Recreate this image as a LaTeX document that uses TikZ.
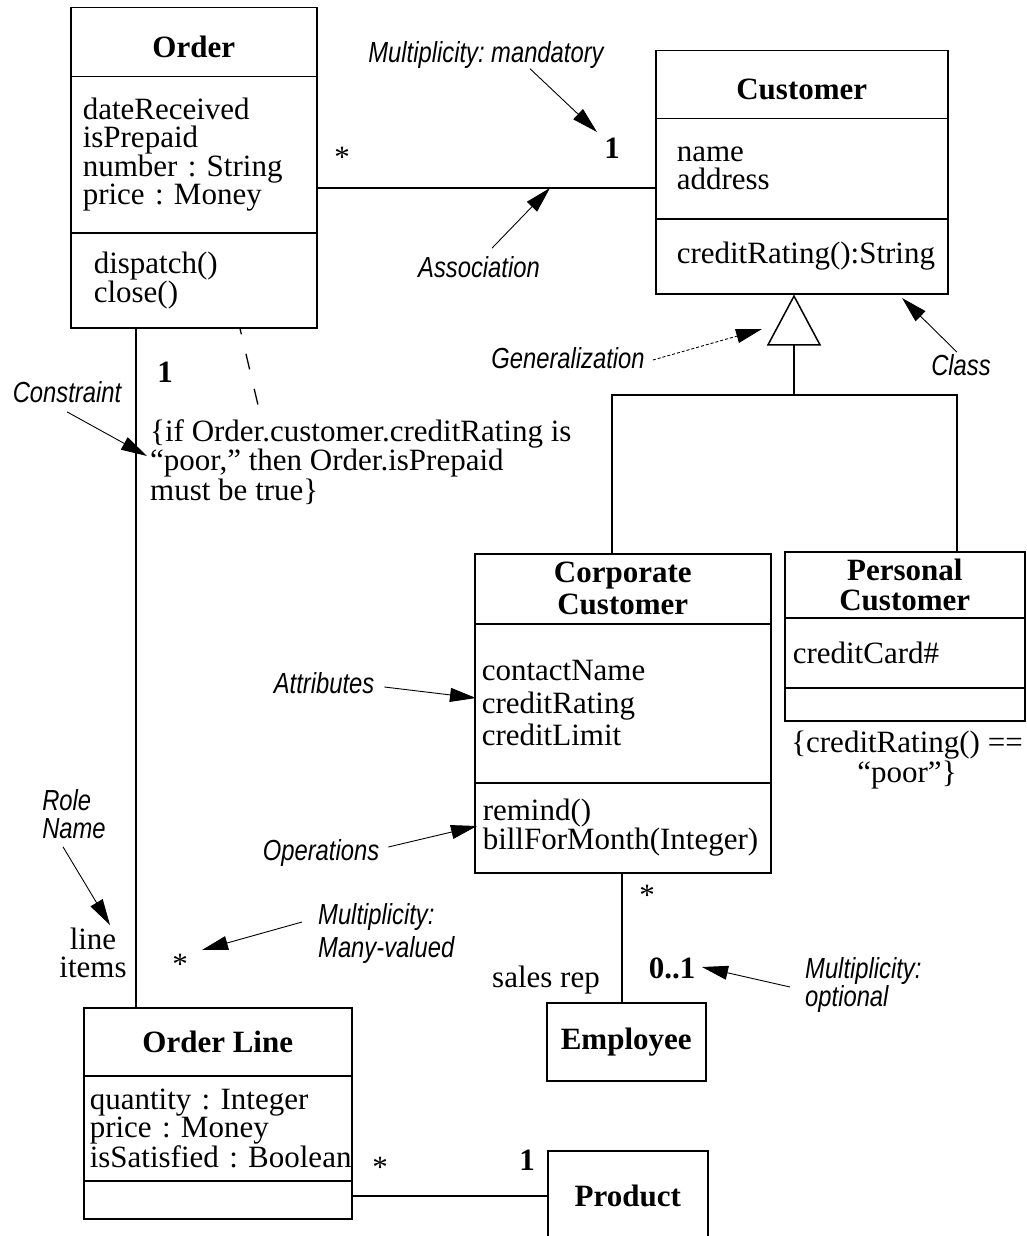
\documentclass[tikz,border=0pt]{standalone}
\usepackage{fontspec}
\setmainfont{Liberation Serif}
\newfontfamily\notefam[FakeStretch=0.82]{Liberation Sans}
\usetikzlibrary{arrows.meta}
\newcommand\umlfont[1][28pt]{\rmfamily\fontsize{31pt}{#1}\selectfont\frenchspacing}
\newcommand\notefont[1][29pt]{\notefam\itshape\fontsize{29pt}{#1}\selectfont\frenchspacing}
\begin{document}
\begin{tikzpicture}[x=1pt,y=-1pt,
  comp/.style={draw, line width=1.5pt, anchor=north west, inner sep=0pt},
  ctitle/.style={comp, align=center, font={\umlfont\bfseries}},
  cattr/.style={comp, align=left, font=\umlfont},
  note/.style={font=\notefont, inner sep=0pt},
  mult/.style={font={\umlfont\bfseries}, inner sep=0pt},
  plain/.style={font=\umlfont, inner sep=0pt},
  link/.style={line width=1.5pt},
  callout/.style={line width=0.9pt, -{Triangle[length=26pt,width=14pt]}}]
\fill[white] (0,0) rectangle (1026,1236);
\useasboundingbox (0,0) rectangle (1026,1236);
\clip (0,0) rectangle (1026,1236);

% Order
\node[ctitle, minimum width=246pt, minimum height=69pt, text height=30pt] (o1) at (70,7) {Order};
\node[cattr, minimum width=246pt, minimum height=156pt, inner xsep=12pt, text width=222pt] (o2) at (70,76) {dateReceived\\isPrepaid\\number : String\\price : Money};
\node[cattr, minimum width=246pt, minimum height=95pt, inner xsep=23pt, text width=200pt, font={\umlfont[29pt]}] (o3) at (70,232) {dispatch()\\close()};

% Customer
\node[ctitle, minimum width=292pt, minimum height=68pt, text height=30pt] (c1) at (655,50) {Customer};
\node[cattr, minimum width=292pt, minimum height=100pt, inner xsep=21pt, text width=250pt] (c2) at (655,118) {name\\address};
\node[cattr, minimum width=292pt, minimum height=75pt, inner xsep=21pt, text width=250pt] (c3) at (655,218) {\mbox{creditRating():String}};

% Corporate Customer
\node[ctitle, minimum width=296pt, minimum height=70pt, font={\umlfont[32pt]\bfseries}] (cc1) at (474,553) {Corporate\\Customer};
\node[cattr, minimum width=296pt, minimum height=159pt, inner xsep=7pt, text width=282pt, font={\umlfont[32.5pt]}] (cc2) at (474,623) {contactName\\creditRating\\creditLimit};
\node[cattr, minimum width=296pt, minimum height=90pt, inner xsep=8pt, text width=280pt, font={\umlfont[29pt]}] (cc3) at (474,782) {remind()\\\mbox{billForMonth(Integer)}};

% Personal Customer
\node[ctitle, minimum width=240pt, minimum height=66pt, font={\umlfont[30pt]\bfseries}] (p1) at (784,551) {Personal\\Customer};
\node[cattr, minimum width=240pt, minimum height=70pt, inner xsep=8pt, text width=224pt] (p2) at (784,617) {creditCard\#};
\node[comp, minimum width=240pt, minimum height=33pt] (p3) at (784,687) {};
\node[plain, align=center, font={\umlfont[30pt]}] (pcons) at (907,760) {\{creditRating() ==\\``poor''\}};

% Order Line
\node[ctitle, minimum width=268pt, minimum height=68pt] (l1) at (83,1007) {Order Line};
\node[cattr, minimum width=268pt, minimum height=105pt, inner xsep=6pt, text width=256pt, font={\umlfont[27pt]}] (l2) at (83,1075) {\mbox{quantity : Integer}\\\mbox{price : Money}\\\mbox{isSatisfied : Boolean}};
\node[comp, minimum width=268pt, minimum height=38pt] (l3) at (83,1180) {};

% Employee, Product
\node[ctitle, minimum width=159pt, minimum height=78pt] (emp) at (546,1002) {Employee};
\node[ctitle, minimum width=160pt, minimum height=90pt] (prod) at (547,1150) {Product};

% constraint text
\node[plain, align=left, anchor=west, font={\umlfont[29.5pt]}] (cons) at (150,462) {\{if Order.customer.creditRating is\\``poor,'' then Order.isPrepaid\\must be true\}};

% multiplicities and role names
\node[plain] (m1) at (342,157) {*};
\node[mult] (m2) at (612,148) {1};
\node[mult] (m3) at (165,372) {1};
\node[plain] (m4) at (180,964) {*};
\node[plain] (m5) at (380,1167) {*};
\node[mult] (m6) at (527,1160) {1};
\node[plain] (m7) at (647,895) {*};
\node[mult] (m8) at (672,968) {0..1};
\node[plain] (r1) at (546,980) {sales rep};
\node[plain, align=center, font={\umlfont[28pt]}] (r2) at (93,953) {line\\items};

% annotation labels
\node[note] (n-mand) at (486,55) {Multiplicity: mandatory};
\node[note] (n-assoc) at (479,267) {Association};
\node[note] (n-gen) at (568,358) {Generalization};
\node[note] (n-class) at (961,365) {Class};
\node[note] (n-cons) at (67,392) {Constraint};
\node[note] (n-attr) at (324,683) {Attributes};
\node[note, align=left, font={\notefont[28pt]}] (n-role) at (74,814) {Role\\Name};
\node[note] (n-ops) at (321,853) {Operations};
\node[note, align=left, anchor=west, font={\notefont[33pt]}] (n-many) at (318,933) {Multiplicity:\\Many-valued};
\node[note, align=left, anchor=west, font={\notefont[27pt]}] (n-opt) at (805,985) {Multiplicity:\\optional};

% connectors
\coordinate (xo) at (136,0);
\draw[link] (o3.south -| xo) -- (l1.north -| xo);
\coordinate (ya) at (0,188);
\draw[link] (o2.east |- ya) -- (c2.west |- ya);
\coordinate (xe) at (622,0);
\draw[link] (cc3.south -| xe) -- (emp.north -| xe);
\coordinate (yp) at (0,1196);
\draw[link] (l3.east |- yp) -- (prod.west |- yp);
\coordinate (gj) at (794,395);
\coordinate (gl) at (612,395);
\coordinate (gr) at (957,395);
\draw[link] (cc1.north -| gl) -- (gl) -- (gr) -- (p1.north -| gr);
\draw[link, -{Triangle[open, length=51pt, width=54pt]}] (gj) -- (c3.south -| gj);
\coordinate (xd) at (240,0);
\coordinate (cd) at (258,405);
\draw[line width=1.3pt, dash pattern=on 16pt off 20pt, dash phase=10pt] (o3.south -| xd) -- (cd);

% callout arrows
\coordinate (t-mand) at (597,132);
\coordinate (t-assoc) at (550,188);
\coordinate (t-gen) at (762,329);
\coordinate (t-class) at (902,298);
\coordinate (t-cons) at (147,456);
\coordinate (t-attr) at (476,698);
\coordinate (t-role) at (110,925);
\coordinate (t-ops) at (477,826);
\coordinate (t-many) at (202,950);
\coordinate (t-opt) at (702,967);
\draw[callout] ([xshift=44pt]n-mand.south) -- (t-mand);
\draw[callout] ([shift={(13pt,8pt)}]n-assoc.north) -- (t-assoc);
\draw[callout, dash pattern=on 3pt off 2pt] ([shift={(8pt,-2pt)}]n-gen.east) -- (t-gen);
\draw[callout] ([shift={(-4pt,2pt)}]n-class.north) -- (t-class);
\draw[callout] ([yshift=-9pt]n-cons.south) -- (t-cons);
\draw[callout] ([shift={(10pt,-4pt)}]n-attr.east) -- (t-attr);
\draw[callout] ([shift={(-11pt,-8pt)}]n-role.south) -- (t-role);
\draw[callout] ([shift={(9pt,6pt)}]n-ops.east) -- (t-ops);
\draw[callout] ([shift={(-16pt,11pt)}]n-many.west) -- (t-many);
\draw[callout] ([shift={(-15pt,-2pt)}]n-opt.west) -- (t-opt);
\end{tikzpicture}
\end{document}
